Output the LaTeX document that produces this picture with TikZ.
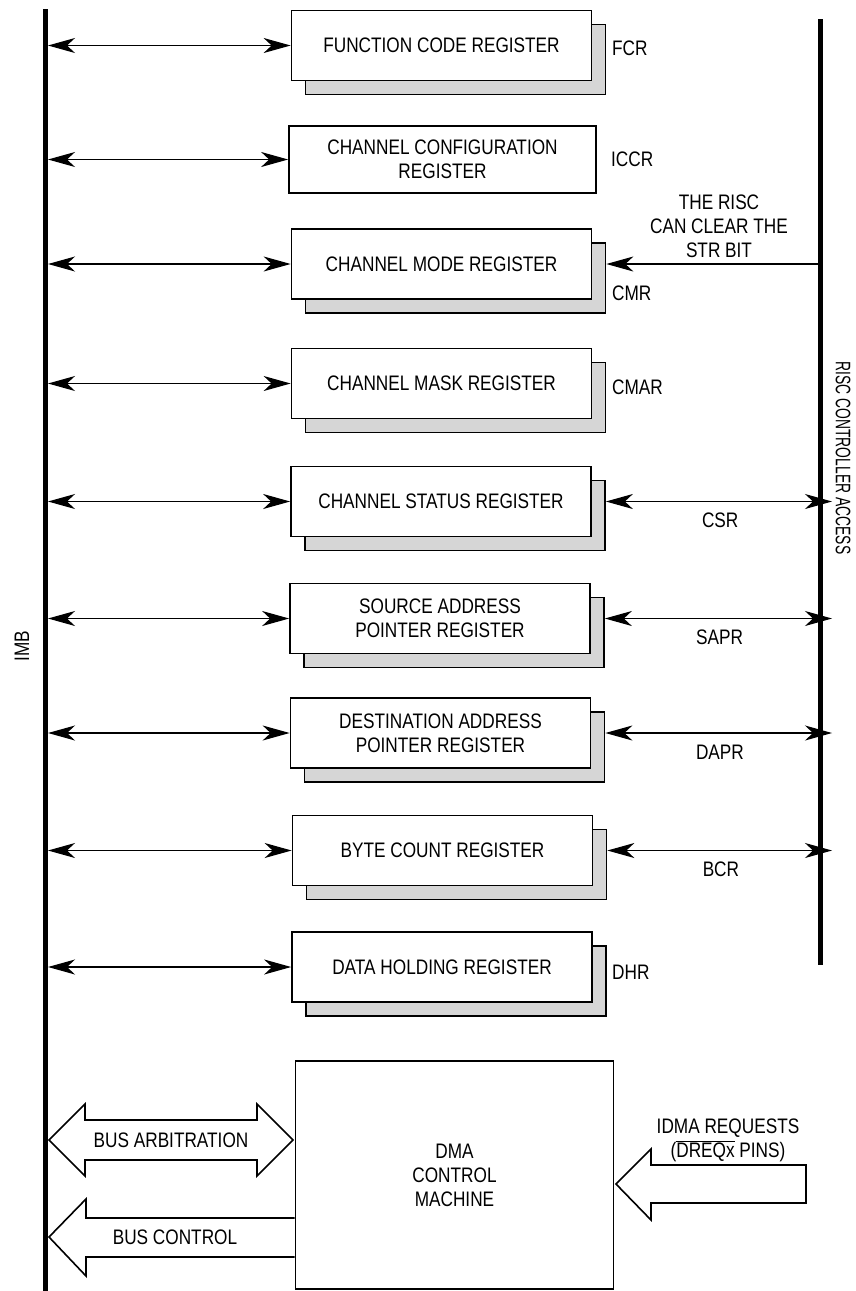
\documentclass[tikz,border=0pt]{standalone}
\usepackage{fontspec}
\setmainfont{Liberation Sans}[FakeStretch=0.82]
\newfontfamily\narrowfont{Liberation Sans}[FakeStretch=0.66]
\usetikzlibrary{arrows.meta,shadows}

\begin{document}
\begin{tikzpicture}[x=1pt, y=-1pt,
  font=\fontsize{21}{24}\selectfont,
  reg/.style={draw, line width=1.7pt, fill=white, align=center, inner sep=0pt, minimum width=300pt, minimum height=70pt},
  regs/.style={reg, general shadow={shadow xshift=14pt, shadow yshift=-14pt, draw, line width=1.7pt, fill=black!16}},
  bus/.style={line width=5pt},
  arr/.style={{Stealth[length=27pt,width=15pt,inset=8pt]}-{Stealth[length=27pt,width=15pt,inset=8pt]}, line width=1.2pt},
  arrin/.style={-{Stealth[length=27pt,width=15pt,inset=8pt]}, line width=1.2pt},
  blk/.style={draw, line width=1.6pt, fill=white},
  tag/.style={inner sep=0pt, anchor=west},
  sub/.style={inner sep=0pt, below=11pt}]
\useasboundingbox (0,0) rectangle (855,1291);

% the two buses
\coordinate (imbt) at (45.5,9);
\coordinate (imbb) at (45.5,1291);
\coordinate (risct) at (820.5,19);
\coordinate (riscb) at (820.5,965);
\draw[bus] (imbt) -- (imbb);
\draw[bus] (risct) -- (riscb);
\node[rotate=90] (imb) at (22,646) {IMB};
\node[rotate=-90, font=\fontsize{21}{24}\narrowfont] (risc) at (843,458) {RISC CONTROLLER ACCESS};

% registers
\node[regs] (fcr) at (441.5,45.5) {FUNCTION CODE REGISTER};
\node[reg, minimum width=307pt, minimum height=67pt] (iccr) at (442.5,159.5) {CHANNEL CONFIGURATION\\REGISTER};
\node[regs] (cmr) at (441.5,264) {CHANNEL MODE REGISTER};
\node[regs] (cmar) at (441.5,383.5) {CHANNEL MASK REGISTER};
\node[regs] (csr) at (441,501.5) {CHANNEL STATUS REGISTER};
\node[regs] (sapr) at (440,618.5) {SOURCE ADDRESS\\POINTER REGISTER};
\node[regs] (dapr) at (440.5,733) {DESTINATION ADDRESS\\POINTER REGISTER};
\node[regs] (bcr) at (442.5,850.5) {BYTE COUNT REGISTER};
\node[regs] (dhr) at (442,967) {DATA HOLDING REGISTER};

\node[tag] (fcrt) at (612,48) {FCR};
\node[tag] (iccrt) at (611,159) {ICCR};
\node[tag] (cmrt) at (612,293) {CMR};
\node[tag] (cmart) at (612,387) {CMAR};
\node[tag] (dhrt) at (612,972) {DHR};

\foreach \r in {fcr,iccr,cmr,cmar,csr,sapr,dapr,bcr,dhr}
  \draw[arr, shorten <=2.5pt] (\r.west -| imbt) -- (\r.west);
\foreach \r/\t in {csr/CSR,sapr/SAPR,dapr/DAPR,bcr/BCR}
  \draw[arr, shorten >=2.5pt] ([xshift=14pt]\r.east) -- node[sub] (t\r) {\t} ([xshift=14pt]\r.east -| risct);

\draw[arrin, shorten <=2.5pt] (cmr.east -| risct) -- ([xshift=14pt]cmr.east);
\node[align=center] (strbit) at (719,226) {THE RISC\\CAN CLEAR THE\\STR BIT};

% DMA control machine
\node[draw, line width=1.7pt, minimum width=318pt, minimum height=228pt, align=center] (dma) at (454.5,1175) {DMA\\CONTROL\\MACHINE};

\draw[blk] (49,1140) -- (85,1104) -- (85,1120) -- (257,1120) -- (257,1104) -- (293,1140)
  -- (257,1176) -- (257,1160) -- (85,1160) -- (85,1176) -- cycle;
\node (arb) at (171,1140) {BUS ARBITRATION};

\draw[blk] (dma.west |- 0,1218) -- (86,1218) -- (86,1199) -- (49,1237) -- (86,1276) -- (86,1257) -- (dma.west |- 0,1257);
\node (ctl) at (175,1237) {BUS CONTROL};

\draw[blk] (616,1184) -- (651,1149) -- (651,1165) -- (806,1165) -- (806,1203) -- (651,1203) -- (651,1220) -- cycle;
\node[align=center] (req) at (728,1140) {IDMA REQUESTS\\(\(\overline{\mbox{DREQx}}\) PINS)};
\end{tikzpicture}
\end{document}
